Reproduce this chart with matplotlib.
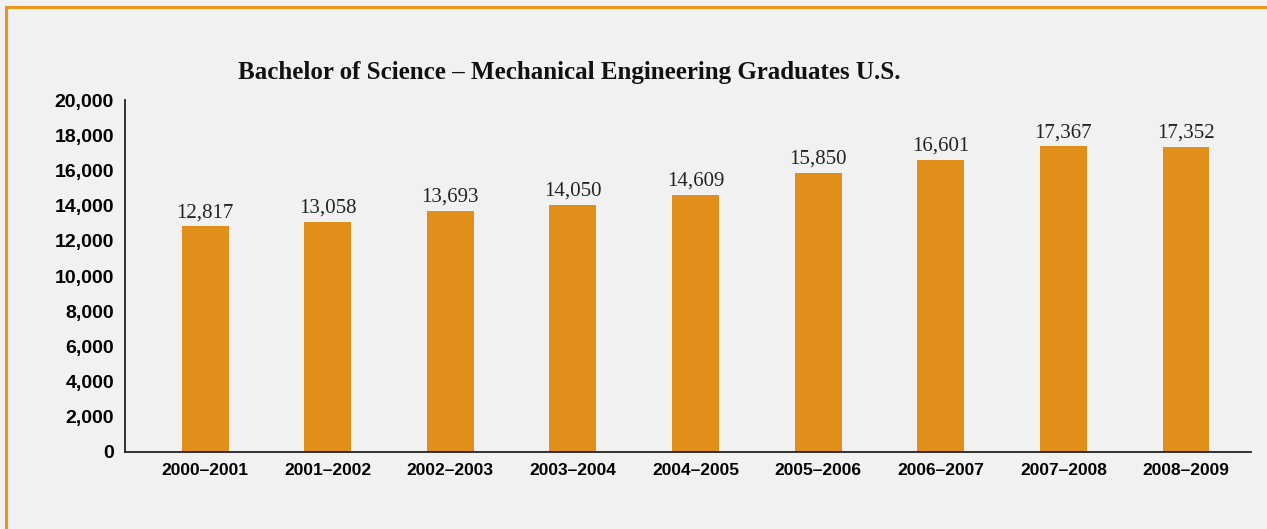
import matplotlib
matplotlib.use("Agg")
import matplotlib.pyplot as plt
from matplotlib.patches import Rectangle

categories = ["2000–2001", "2001–2002", "2002–2003", "2003–2004", "2004–2005",
              "2005–2006", "2006–2007", "2007–2008", "2008–2009"]
graduates = [12817, 13058, 13693, 14050, 14609, 15850, 16601, 17367, 17352]
yticks = [0, 2000, 4000, 6000, 8000, 10000, 12000, 14000, 16000, 18000, 20000]

W, H = 1267, 529
fig = plt.figure(figsize=(W / 100, H / 100), dpi=100)
fig.patch.set_facecolor("#F1F1F1")

# orange frame (top and left visible)
fig.add_artist(Rectangle((6 / W, -0.1), 1.2, (H - 7) / H + 0.1, transform=fig.transFigure,
                         fill=False, edgecolor="#E8961E", linewidth=2.2))

ax = fig.add_axes([125 / W, (H - 452) / H, (1251 - 125) / W, (452 - 100) / H])
ax.set_facecolor("#F1F1F1")

x = list(range(len(categories)))
ax.bar(x, graduates, width=0.383, color="#E28E1B", zorder=2)

for xi, v in zip(x, graduates):
    ax.annotate(f"{v:,}", (xi, v), xytext=(0, 3), textcoords="offset points",
                ha="center", va="bottom", fontsize=15,
                family=["Liberation Serif", "DejaVu Serif"], color="#222222")

ax.set_xlim(-0.653, 8.53)
ax.set_ylim(0, 20000)
ax.set_yticks(yticks)
ax.set_yticklabels([f"{t:,}" for t in yticks], fontsize=14, fontweight="bold",
                   family=["Liberation Sans", "DejaVu Sans"])
ax.set_xticks(x)
ax.set_xticklabels(categories, fontsize=12.5, fontweight="bold",
                   family=["Liberation Sans", "DejaVu Sans"])
ax.tick_params(axis="y", length=0, pad=8)
ax.tick_params(axis="x", length=0, pad=8)
for s in ["top", "right"]:
    ax.spines[s].set_visible(False)
for s in ["left", "bottom"]:
    ax.spines[s].set_color("#222222")
    ax.spines[s].set_linewidth(1.3)

fig.text(569 / W, (H - 73) / H, "Bachelor of Science – Mechanical Engineering Graduates U.S.",
         ha="center", va="center", fontsize=18, fontweight="bold",
         family=["Liberation Serif", "DejaVu Serif"], color="#111111")

fig.savefig("out.png", dpi=100, facecolor=fig.get_facecolor())
